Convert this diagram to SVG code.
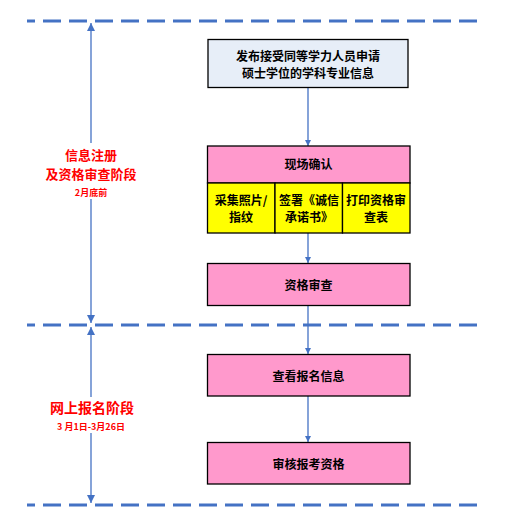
<svg xmlns="http://www.w3.org/2000/svg" width="522" height="516" viewBox="0 0 522 516">
<defs>
<style>
.sep{stroke:#4472C4;stroke-width:3;stroke-dasharray:18 8;stroke-dashoffset:10;fill:none}
.con{stroke:#4472C4;stroke-width:1.3;fill:none}
.box{stroke:#000;stroke-width:1.3}
.pink{fill:#FF99CC}
.yel{fill:#FFFF00}
.blue{fill:#E7EEF8}
.t{font-family:"Noto Sans CJK SC","Liberation Sans",sans-serif;font-weight:bold;font-size:12px;fill:#000;text-anchor:middle;dominant-baseline:central}
.r{font-family:"Noto Sans CJK SC","Liberation Sans",sans-serif;font-weight:bold;fill:#FF0000;text-anchor:middle;dominant-baseline:central}
</style>
<marker id="ah" markerWidth="6" markerHeight="8" refX="6" refY="3" orient="auto" markerUnits="userSpaceOnUse" viewBox="0 0 6 6"><path d="M0,0 L6,3 L0,6 z" fill="#4472C4"/></marker>
<marker id="ab" markerWidth="8" markerHeight="8" refX="8" refY="4" orient="auto" markerUnits="userSpaceOnUse" viewBox="0 0 8 8"><path d="M0,0 L8,4 L0,8 z" fill="#4472C4"/></marker>
<marker id="abs" markerWidth="8" markerHeight="8" refX="0" refY="4" orient="auto" markerUnits="userSpaceOnUse" viewBox="0 0 8 8"><path d="M8,0 L0,4 L8,8 z" fill="#4472C4"/></marker>
</defs>
<rect width="522" height="516" fill="#fff"/>
<g id="separators">
<line class="sep" x1="27" y1="21" x2="478" y2="21"/>
<line class="sep" x1="27" y1="325" x2="478" y2="325"/>
<line class="sep" x1="27" y1="505" x2="478" y2="505"/>
</g>
<g id="connectors">
<line class="con" x1="91" y1="23" x2="91" y2="323" marker-start="url(#abs)" marker-end="url(#ab)"/>
<line class="con" x1="91" y1="327" x2="91" y2="503" marker-start="url(#abs)" marker-end="url(#ab)"/>
<line class="con" x1="308" y1="88" x2="308" y2="146" marker-end="url(#ah)"/>
<line class="con" x1="308" y1="233" x2="308" y2="263" marker-end="url(#ah)"/>
<line class="con" x1="308" y1="306" x2="308" y2="354" marker-end="url(#ah)"/>
<line class="con" x1="308" y1="396" x2="308" y2="442" marker-end="url(#ah)"/>
</g>
<g id="stage1">
<rect x="55" y="143" width="74" height="56" fill="#fff"/>
<text class="r" x="91" y="154.5" font-size="13">信息注册</text>
<text class="r" x="91" y="173.5" font-size="13">及资格审查阶段</text>
<text class="r" x="91" y="192" font-size="9">2月底前</text>
</g>
<g id="stage2">
<rect x="45" y="397" width="94" height="36" fill="#fff"/>
<text class="r" x="92" y="407" font-size="14">网上报名阶段</text>
<text class="r" x="91" y="426" font-size="9">3 月1日-3月26日</text>
</g>
<g id="n1">
<rect class="box blue" x="208" y="39.5" width="200" height="48"/>
<text class="t" x="308" y="55">发布接受同等学力人员申请</text>
<text class="t" x="308" y="72">硕士学位的学科专业信息</text>
</g>
<g id="n2">
<rect class="box pink" x="207.5" y="146" width="202.5" height="37"/>
<text class="t" x="308.5" y="163">现场确认</text>
</g>
<g id="n2a">
<rect class="box yel" x="207.5" y="183" width="67.5" height="50"/>
<text class="t" x="241" y="199.5">采集照片/</text>
<text class="t" x="241" y="216">指纹</text>
</g>
<g id="n2b">
<rect class="box yel" x="275" y="183" width="67.5" height="50"/>
<text class="t" x="309" y="199.5">签署《诚信</text>
<text class="t" x="309" y="216">承诺书》</text>
</g>
<g id="n2c">
<rect class="box yel" x="342.5" y="183" width="67.5" height="50"/>
<text class="t" x="376" y="199.5">打印资格审</text>
<text class="t" x="376" y="216">查表</text>
</g>
<g id="n3">
<rect class="box pink" x="207.5" y="263.5" width="202.5" height="42"/>
<text class="t" x="308.5" y="284">资格审查</text>
</g>
<g id="n4">
<rect class="box pink" x="207.5" y="354.5" width="202.5" height="41.5"/>
<text class="t" x="308.5" y="375">查看报名信息</text>
</g>
<g id="n5">
<rect class="box pink" x="207.5" y="442.5" width="202.5" height="41.5"/>
<text class="t" x="308.5" y="463">审核报考资格</text>
</g>
</svg>
